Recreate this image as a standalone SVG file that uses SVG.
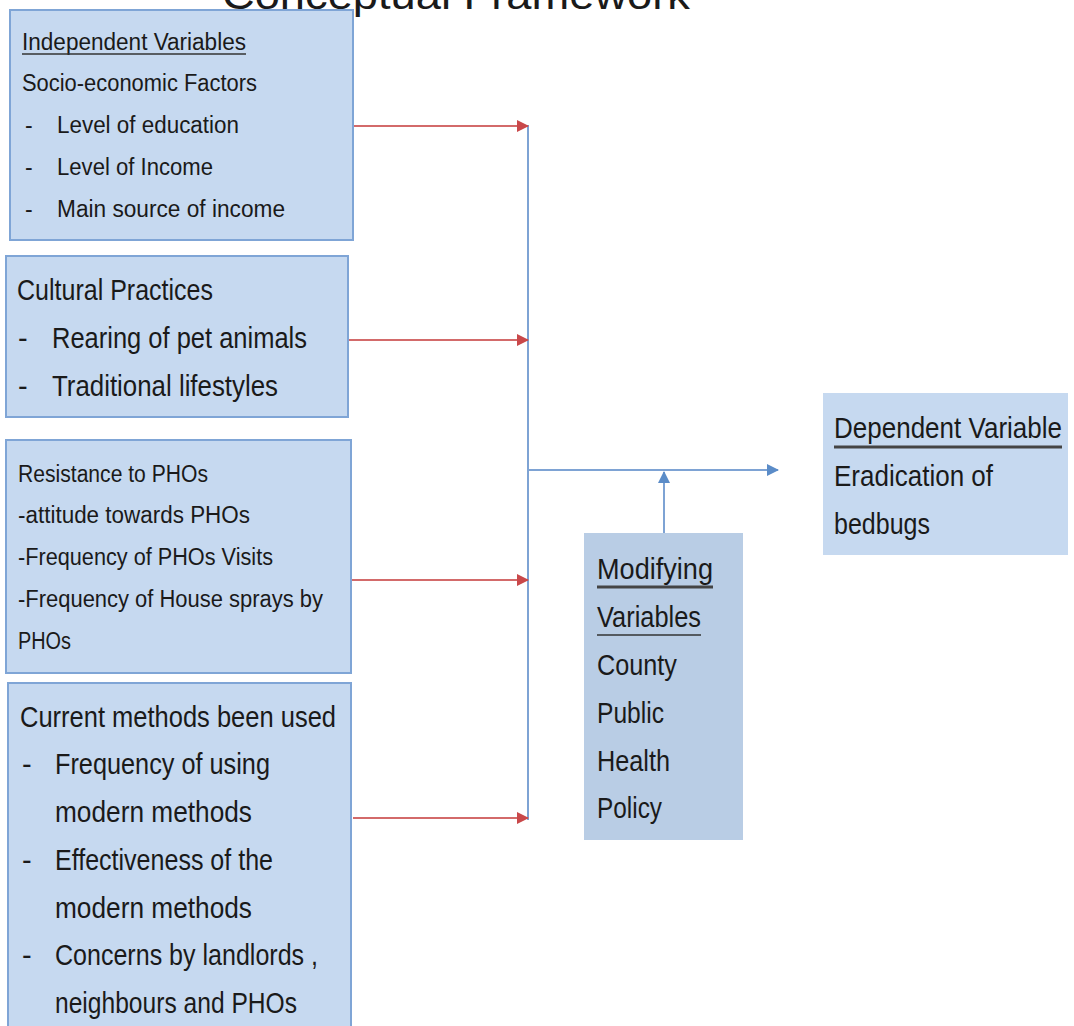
<svg xmlns="http://www.w3.org/2000/svg" width="1074" height="1026" viewBox="0 0 1074 1026">
<defs>
<style>
.box{fill:#c6d9f0;stroke:#7fa5d6;stroke-width:2}
.boxn{fill:#c6d9f0}
.mod{fill:#b9cde5}
.t{font-family:"Liberation Sans",Arial,sans-serif;fill:#1a1a1a}
.s{font-size:23px}
.l{font-size:29px}
.red{stroke:#d36a6a;stroke-width:2;fill:none}
.blue{stroke:#7ea3d4;stroke-width:2;fill:none}
.ul{stroke:#333;stroke-width:1.5}
.ulb{stroke:#444;stroke-width:3}
</style>
<marker id="ar" markerWidth="12" markerHeight="12" refX="11" refY="6" orient="auto" markerUnits="userSpaceOnUse">
<path d="M0,0 L12,6 L0,12 Z" fill="#c9484a"/>
</marker>
<marker id="ab" markerWidth="12" markerHeight="12" refX="11" refY="6" orient="auto" markerUnits="userSpaceOnUse">
<path d="M0,0 L12,6 L0,12 Z" fill="#5b8cc8"/>
</marker>
</defs>
<rect width="1074" height="1026" fill="#ffffff"/>
<text class="t" x="222" y="9" font-size="40" textLength="468" lengthAdjust="spacingAndGlyphs">Conceptual Framework</text>

<g id="connectors">
<line class="blue" x1="528" y1="125" x2="528" y2="820"/>
<line class="red" x1="353" y1="126" x2="528" y2="126" marker-end="url(#ar)"/>
<line class="red" x1="348" y1="340" x2="528" y2="340" marker-end="url(#ar)"/>
<line class="red" x1="351" y1="580" x2="528" y2="580" marker-end="url(#ar)"/>
<line class="red" x1="353" y1="818" x2="528" y2="818" marker-end="url(#ar)"/>
<line class="blue" x1="528" y1="470" x2="778" y2="470" marker-end="url(#ab)"/>
<line class="blue" x1="664" y1="533" x2="664" y2="472" marker-end="url(#ab)"/>
</g>

<g id="independent">
<rect class="box" x="10" y="10" width="343" height="230"/>
<text class="t s" x="22" y="50" textLength="224" lengthAdjust="spacingAndGlyphs">Independent  Variables</text>
<line class="ul" x1="22" y1="54" x2="246" y2="54"/>
<text class="t s" x="22" y="91" textLength="235" lengthAdjust="spacingAndGlyphs">Socio-economic  Factors</text>
<text class="t s" x="25" y="133">-</text>
<text class="t s" x="57" y="133" textLength="182" lengthAdjust="spacingAndGlyphs">Level of education</text>
<text class="t s" x="25" y="175">-</text>
<text class="t s" x="57" y="175" textLength="156" lengthAdjust="spacingAndGlyphs">Level of Income</text>
<text class="t s" x="25" y="217">-</text>
<text class="t s" x="57" y="217" textLength="228" lengthAdjust="spacingAndGlyphs">Main source of income</text>
</g>

<g id="cultural">
<rect class="box" x="6" y="256" width="342" height="161"/>
<text class="t l" x="17" y="300" textLength="196" lengthAdjust="spacingAndGlyphs">Cultural Practices</text>
<text class="t l" x="18" y="348">-</text>
<text class="t l" x="52" y="348" textLength="255" lengthAdjust="spacingAndGlyphs">Rearing of pet animals</text>
<text class="t l" x="18" y="396">-</text>
<text class="t l" x="52" y="396" textLength="226" lengthAdjust="spacingAndGlyphs">Traditional lifestyles</text>
</g>

<g id="resistance">
<rect class="box" x="6" y="440" width="345" height="233"/>
<text class="t s" x="18" y="482" textLength="190" lengthAdjust="spacingAndGlyphs">Resistance  to PHOs</text>
<text class="t s" x="18" y="523" textLength="232" lengthAdjust="spacingAndGlyphs">-attitude towards PHOs</text>
<text class="t s" x="18" y="565" textLength="255" lengthAdjust="spacingAndGlyphs">-Frequency  of PHOs Visits</text>
<text class="t s" x="18" y="607" textLength="305" lengthAdjust="spacingAndGlyphs">-Frequency  of House sprays by</text>
<text class="t s" x="18" y="649" textLength="53" lengthAdjust="spacingAndGlyphs">PHOs</text>
</g>

<g id="methods">
<rect class="box" x="8" y="683" width="343" height="360"/>
<text class="t l" x="20" y="727" textLength="316" lengthAdjust="spacingAndGlyphs">Current methods been used</text>
<text class="t l" x="22" y="774">-</text>
<text class="t l" x="55" y="774" textLength="215" lengthAdjust="spacingAndGlyphs">Frequency of using</text>
<text class="t l" x="55" y="822" textLength="197" lengthAdjust="spacingAndGlyphs">modern methods</text>
<text class="t l" x="22" y="870">-</text>
<text class="t l" x="55" y="870" textLength="218" lengthAdjust="spacingAndGlyphs">Effectiveness of the</text>
<text class="t l" x="55" y="918" textLength="197" lengthAdjust="spacingAndGlyphs">modern methods</text>
<text class="t l" x="22" y="965">-</text>
<text class="t l" x="55" y="965" textLength="263" lengthAdjust="spacingAndGlyphs">Concerns by landlords ,</text>
<text class="t l" x="55" y="1013" textLength="242" lengthAdjust="spacingAndGlyphs">neighbours and PHOs</text>
</g>

<g id="modifying">
<rect class="mod" x="584" y="533" width="159" height="307"/>
<text class="t l" x="597" y="579" textLength="116" lengthAdjust="spacingAndGlyphs">Modifying</text>
<line class="ulb" x1="597" y1="587" x2="713" y2="587"/>
<text class="t l" x="597" y="627" textLength="104" lengthAdjust="spacingAndGlyphs">Variables</text>
<line class="ul" x1="597" y1="635" x2="701" y2="635"/>
<text class="t l" x="597" y="675" textLength="80" lengthAdjust="spacingAndGlyphs">County</text>
<text class="t l" x="597" y="723" textLength="67" lengthAdjust="spacingAndGlyphs">Public</text>
<text class="t l" x="597" y="771" textLength="73" lengthAdjust="spacingAndGlyphs">Health</text>
<text class="t l" x="597" y="818" textLength="65" lengthAdjust="spacingAndGlyphs">Policy</text>
</g>

<g id="dependent">
<rect class="boxn" x="823" y="393" width="245" height="162"/>
<text class="t l" x="834" y="438" textLength="228" lengthAdjust="spacingAndGlyphs">Dependent Variable</text>
<line class="ulb" x1="834" y1="447" x2="1062" y2="447"/>
<text class="t l" x="834" y="486" textLength="159" lengthAdjust="spacingAndGlyphs">Eradication of</text>
<text class="t l" x="834" y="534" textLength="96" lengthAdjust="spacingAndGlyphs">bedbugs</text>
</g>
</svg>
